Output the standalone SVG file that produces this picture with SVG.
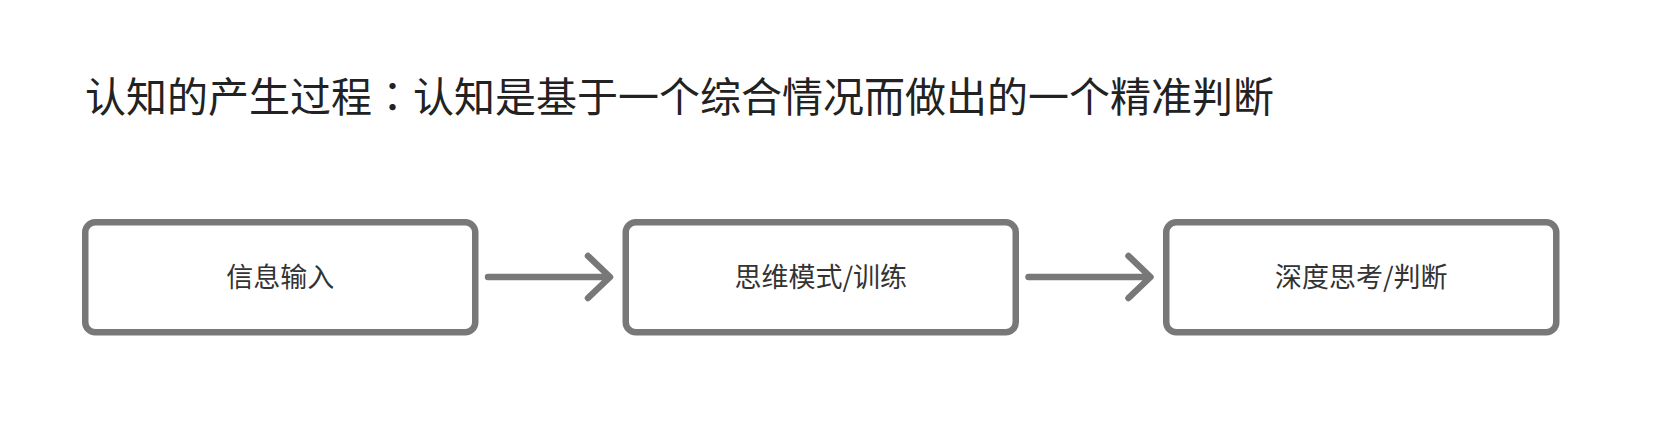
<svg xmlns="http://www.w3.org/2000/svg" width="1664" height="430" viewBox="0 0 1664 430">
<style>
.title{font-family:"Noto Sans CJK SC","Noto Sans",sans-serif;font-size:41px;fill:#222;}
.colon{font-family:"Noto Sans CJK TC","Noto Sans CJK JP",sans-serif;}
.box{fill:#fff;stroke:#787878;stroke-width:6.5;}
.lbl{font-family:"Noto Sans CJK SC","Noto Sans",sans-serif;font-size:27px;fill:#333;text-anchor:middle;}
.conn{fill:none;stroke:#787878;stroke-width:6.5;stroke-linecap:round;stroke-linejoin:round;}
</style>
<rect width="1664" height="430" fill="#fff"/>
<text class="title" x="85" y="112">认知的产生过程<tspan class="colon">：</tspan>认知是基于一个综合情况而做出的一个精准判断</text>
<g id="node1">
<rect class="box" x="85.25" y="222.25" width="390" height="110" rx="10"/>
<text class="lbl" x="280.25" y="286.5">信息输入</text>
</g>
<g id="node2">
<rect class="box" x="625.75" y="222.25" width="390" height="110" rx="10"/>
<text class="lbl" x="820.75" y="286.5">思维模式/训练</text>
</g>
<g id="node3">
<rect class="box" x="1166.25" y="222.25" width="390" height="110" rx="10"/>
<text class="lbl" x="1361.25" y="286.5">深度思考/判断</text>
</g>
<g id="connectors">
<path class="conn" d="M488 277 H609 M588 256 L610 277 L588 298"/>
<path class="conn" d="M1028.5 277 H1149.5 M1128.5 256 L1150.5 277 L1128.5 298"/>
</g>
</svg>
